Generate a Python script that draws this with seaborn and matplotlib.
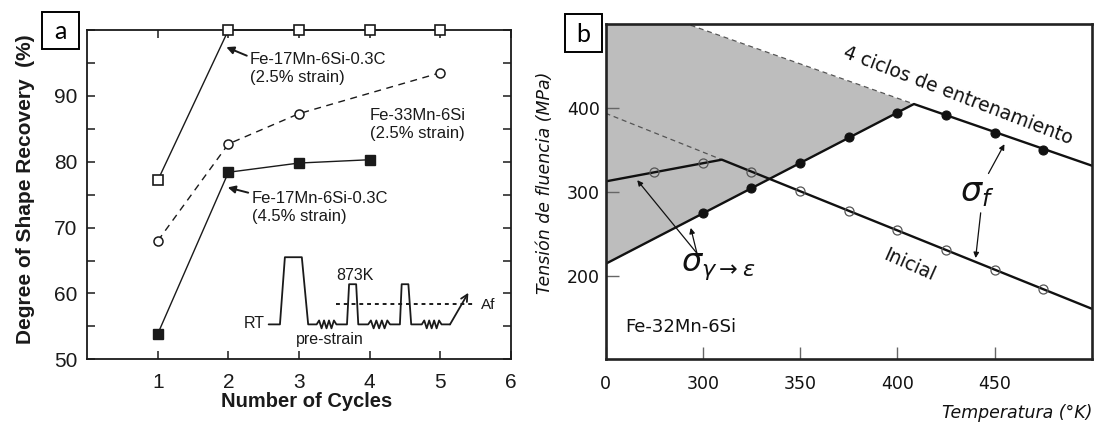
import numpy as np
import matplotlib.pyplot as plt
import matplotlib.patches as mpatches
from matplotlib.ticker import MultipleLocator
import seaborn as sns

# ---------------------------------------------------------------------------
# Panel a: degree of shape recovery vs number of training cycles
# ---------------------------------------------------------------------------
cycles_17mn_25 = [1, 2, 3, 4, 5]
recovery_17mn_25 = [77.2, 100.0, 100.0, 100.0, 100.0]     # open squares

cycles_33mn = [1, 2, 3, 5]
recovery_33mn = [68.0, 82.7, 87.3, 93.5]                    # open circles, dashed

cycles_17mn_45 = [1, 2, 3, 4]
recovery_17mn_45 = [53.9, 78.4, 79.8, 80.3]                 # filled squares

# inset: thermo-mechanical training schedule (schematic, panel-a coords)
sched_x = [2.57, 2.73, 2.80, 3.04, 3.13, 3.25, 3.53, 3.68, 3.71, 3.81,
           3.84, 3.98, 4.29, 4.43, 4.455, 4.55, 4.59, 4.74, 5.02, 5.14]
sched_y = [55.3, 55.3, 65.5, 65.5, 55.3, 55.3, 55.3, 55.3, 61.4, 61.4,
           55.3, 55.3, 55.3, 55.3, 61.4, 61.4, 55.3, 55.3, 55.3, 55.3]
spring_spans = [(3.25, 3.53), (3.98, 4.29), (4.74, 5.02)]   # "pre-strain" springs
af_level = 58.4
af_span = [3.53, 5.50]
sched_arrow = [(5.14, 55.3), (5.40, 60.1)]

# ---------------------------------------------------------------------------
# Panel b: yield stress vs temperature, Fe-32Mn-6Si
# ---------------------------------------------------------------------------
temp_trained = [300, 325, 350, 375, 400, 425, 450, 475]
sigma_trained = [274.5, 304.4, 334.1, 365.1, 394.4, 391.7, 370.6, 350.0]

temp_initial = [275, 300, 325, 350, 375, 400, 425, 450, 475]
sigma_initial = [323.4, 334.1, 323.8, 300.8, 277.4, 254.0, 231.0, 207.1, 184.1]

trained_fit_T = [250, 408.5, 500]
trained_fit_S = [214.0, 405.0, 331.3]
initial_fit_T = [250, 309.8, 500]
initial_fit_S = [312.5, 338.5, 160.3]

trained_dash_T = [250, 408.5]
trained_dash_S = [535.0, 405.0]
initial_dash_T = [250, 309.8]
initial_dash_S = [394.0, 338.5]

b_xticks = [250, 300, 350, 400, 450]
b_xticklabels = ["0", "300", "350", "400", "450"]
b_yticks = [200, 300, 400]

# ---------------------------------------------------------------------------
sns.set_style("ticks")
plt.rcParams["font.family"] = ["Liberation Sans", "DejaVu Sans"]
plt.rcParams["mathtext.fontset"] = "dejavusans"

INK = "#1a1a1a"
W, H = 1097, 423


def spring_path(xs, ys, spans, amp=0.6, teeth=7):
    """Insert zigzag 'spring' symbols into the schematic polyline."""
    px, py = [], []
    for x, y in zip(xs, ys):
        px.append(x)
        py.append(y)
        for a, b in spans:
            if np.isclose(x, a):
                step = (b - a) / (teeth + 1)
                for k in range(1, teeth + 1):
                    px.append(a + k * step)
                    py.append(y + (amp if k % 2 else -amp))
    return px, py


fig = plt.figure(figsize=(W / 100, H / 100), dpi=100)
ax_a = fig.add_axes([87.3 / W, 1 - 359.3 / H, 423.4 / W, 329.3 / H])
ax_b = fig.add_axes([605.5 / W, 1 - 359.3 / H, 486.5 / W, 334.8 / H])

# ── panel a ────────────────────────────────────────────────────────────────
sns.lineplot(x=cycles_17mn_25, y=recovery_17mn_25, ax=ax_a, color=INK, lw=1.0,
             marker="s", markersize=7.5, mfc="white", mec=INK, mew=1.2, zorder=3,
             clip_on=False)
sns.lineplot(x=cycles_33mn, y=recovery_33mn, ax=ax_a, color=INK, lw=1.0,
             linestyle=(0, (5, 4)), marker="o", markersize=6.5, mfc="white",
             mec=INK, mew=1.1, zorder=3)
sns.lineplot(x=cycles_17mn_45, y=recovery_17mn_45, ax=ax_a, color=INK, lw=1.0,
             marker="s", markersize=7.5, mfc=INK, mec=INK, mew=1.0, zorder=3)

sx, sy = spring_path(sched_x, sched_y, spring_spans)
ax_a.plot(sx, sy, color=INK, lw=1.3, zorder=2)
ax_a.plot(af_span, [af_level, af_level], color=INK, lw=1.4, ls=(0, (2, 2)))
ax_a.annotate("", xy=sched_arrow[1], xytext=sched_arrow[0],
              arrowprops=dict(arrowstyle="->", lw=1.3, color=INK,
                              shrinkA=0, shrinkB=0, mutation_scale=12))
ax_a.text(2.51, 55.4, "RT", ha="right", va="center", fontsize=11.5, color=INK)
ax_a.text(3.79, 62.7, "873K", ha="center", va="center", fontsize=11.5, color=INK)
ax_a.text(3.44, 53.0, "pre-strain", ha="center", va="center", fontsize=11.5, color=INK)
ax_a.text(5.58, 58.2, "Af", ha="left", va="center", fontsize=11, color=INK)

ax_a.text(2.30, 94.2, "Fe-17Mn-6Si-0.3C\n(2.5% strain)", ha="left", va="center",
          fontsize=12, color=INK, linespacing=1.25)
ax_a.text(4.00, 85.7, "Fe-33Mn-6Si\n(2.5% strain)", ha="left", va="center",
          fontsize=12, color=INK, linespacing=1.25)
ax_a.text(2.33, 73.1, "Fe-17Mn-6Si-0.3C\n(4.5% strain)", ha="left", va="center",
          fontsize=12, color=INK, linespacing=1.25)
for head, tail in [((1.97, 97.4), (2.26, 96.1)), ((1.99, 76.1), (2.28, 75.3))]:
    ax_a.annotate("", xy=head, xytext=tail,
                  arrowprops=dict(arrowstyle="-|>", lw=1.4, color=INK,
                                  shrinkA=0, shrinkB=0, mutation_scale=11))

ax_a.set_xlim(0, 6)
ax_a.set_ylim(50, 100)
ax_a.set_xticks([1, 2, 3, 4, 5, 6])
ax_a.yaxis.set_major_locator(MultipleLocator(10))
ax_a.yaxis.set_minor_locator(MultipleLocator(5))
ax_a.set_yticks([50, 60, 70, 80, 90])
ax_a.tick_params(axis="both", which="both", direction="in", length=6, width=1.1,
                 color=INK, labelsize=15, labelcolor=INK, top=True, right=True)
ax_a.tick_params(axis="x", pad=10)
ax_a.tick_params(axis="y", pad=7)
for sp in ax_a.spines.values():
    sp.set_linewidth(1.3)
    sp.set_color(INK)
ax_a.set_xlabel("")
ax_a.set_ylabel("")

fig.text(26 / W, 1 - 189 / H, "Degree of Shape Recovery  (%)", rotation=90,
         ha="center", va="center", fontsize=15, fontweight="bold", color=INK)
fig.text(307 / W, 1 - 401 / H, "Number of Cycles", ha="center", va="center",
         fontsize=14.5, fontweight="bold", color=INK)

# ── panel b ────────────────────────────────────────────────────────────────
TECH = ["DejaVu Sans"]
ax_b.fill_between(trained_dash_T, trained_fit_S[:2], trained_dash_S,
                  color="#bdbdbd", lw=0, zorder=0)
sns.lineplot(x=trained_dash_T, y=trained_dash_S, ax=ax_b, color="#555555",
             lw=0.9, linestyle=(0, (4, 3)), zorder=1)
sns.lineplot(x=initial_dash_T, y=initial_dash_S, ax=ax_b, color="#555555",
             lw=0.9, linestyle=(0, (4, 3)), zorder=1)
sns.lineplot(x=trained_fit_T, y=trained_fit_S, ax=ax_b, color="#111111", lw=1.7, zorder=2)
sns.lineplot(x=initial_fit_T, y=initial_fit_S, ax=ax_b, color="#111111", lw=1.7, zorder=2)
sns.lineplot(x=temp_trained, y=sigma_trained, ax=ax_b, linestyle="", marker="o",
             markersize=6.5, mfc="#111111", mec="#111111", mew=0.8, zorder=3)
sns.lineplot(x=temp_initial, y=sigma_initial, ax=ax_b, linestyle="", marker="o",
             markersize=6.5, mfc="none", mec="#555555", mew=0.9, zorder=3)

ax_b.text(431, 415, "4 ciclos de entrenamiento", rotation=-21, rotation_mode="anchor",
          ha="center", va="center", fontsize=13.5, family=TECH, color="#111111")
ax_b.text(406, 212, "Inicial", rotation=-24, rotation_mode="anchor",
          ha="center", va="center", fontsize=13.5, family=TECH, color="#111111")
ax_b.text(260, 138, "Fe-32Mn-6Si", ha="left", va="center", fontsize=13,
          family=TECH, color="#111111")
ax_b.text(441, 298, r"$\sigma_f$", ha="center", va="center", fontsize=24, color="#111111")
ax_b.text(308, 211, r"$\sigma_{\gamma\rightarrow\varepsilon}$", ha="center", va="center",
          fontsize=23, color="#111111")
arrow_kw = dict(arrowstyle="-|>", lw=0.9, color="#111111", shrinkA=0, shrinkB=0,
                mutation_scale=8)
for head, tail in [((455, 357), (446.8, 322)), ((440.2, 221), (442.8, 275)),
                   ((266.3, 314), (297, 226.6)), ((293.8, 257), (297, 226.6))]:
    ax_b.annotate("", xy=head, xytext=tail, arrowprops=arrow_kw)

ax_b.set_xlim(250, 500)
ax_b.set_ylim(100, 500)
ax_b.set_xticks(b_xticks)
ax_b.set_xticklabels(b_xticklabels)
ax_b.set_yticks(b_yticks)
ax_b.tick_params(axis="both", direction="in", length=9, width=1.0, color="#666666",
                 labelsize=12.5, labelcolor="#111111")
ax_b.tick_params(axis="x", pad=11)
ax_b.tick_params(axis="y", pad=4)
for lab in ax_b.get_xticklabels() + ax_b.get_yticklabels():
    lab.set_family(TECH)
for sp in ax_b.spines.values():
    sp.set_linewidth(1.9)
    sp.set_color("#222222")
ax_b.set_xlabel("")
ax_b.set_ylabel("")

fig.text(545 / W, 1 - 183 / H, "Tensión de fluencia (MPa)", rotation=90,
         ha="center", va="center", fontsize=12.5, style="italic", family=TECH,
         color="#111111")
fig.text(1092 / W, 1 - 413 / H, "Temperatura (°K)", ha="right", va="center",
         fontsize=12.5, style="italic", family=TECH, color="#111111")

# ── panel letters in boxes ────────────────────────────────────────────────
for x0, y0, w, h, letter in [(41.7, 11.7, 37.3, 37.6, "a"), (565.0, 14.3, 37.0, 38.0, "b")]:
    fig.add_artist(mpatches.Rectangle((x0 / W, 1 - (y0 + h) / H), w / W, h / H,
                                      transform=fig.transFigure, fc="white",
                                      ec="black", lw=1.4))
    fig.text((x0 + w / 2) / W, 1 - (y0 + h / 2 + 1) / H, letter, ha="center",
             va="center", fontsize=18, family=["Lato", "DejaVu Sans"], color="black")

fig.savefig("out.png", dpi=100, facecolor="white")
